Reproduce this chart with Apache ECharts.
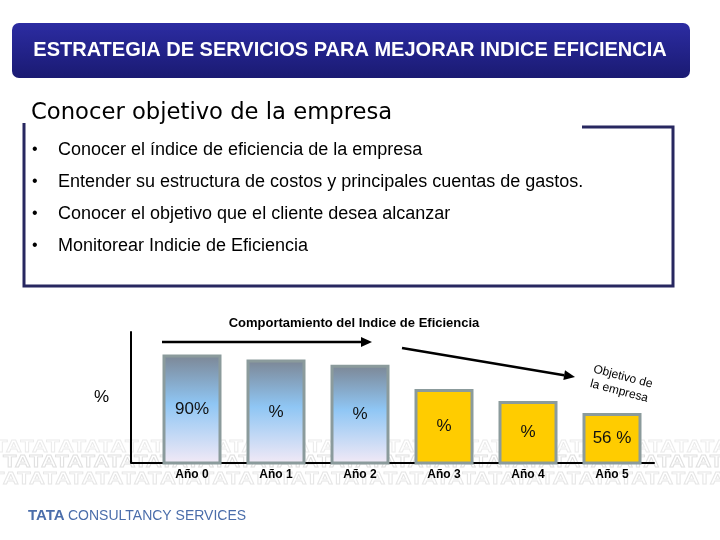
<!DOCTYPE html>
<html><head><meta charset="utf-8">
<script src="https://cdn.jsdelivr.net/npm/echarts@6/dist/echarts.min.js"></script>
<style>html,body{margin:0;padding:0;background:#fff}#c{width:720px;height:540px}</style>
</head><body><div id="c"></div>
<script>
// ---- data ----
const categories = ['Año 0', 'Año 1', 'Año 2', 'Año 3', 'Año 4', 'Año 5'];
const values = [90, 87, 84, 70, 63, 56];
const barLabels = ['90%', '%', '%', '%', '%', '56 %'];
const barKinds = ['actual', 'actual', 'actual', 'meta', 'meta', 'meta'];
const headerTitle = 'ESTRATEGIA DE SERVICIOS PARA MEJORAR INDICE EFICIENCIA';
const sectionTitle = 'Conocer objetivo de la empresa';
const bullets = [
  'Conocer el índice de eficiencia de la empresa',
  'Entender su estructura de costos y principales cuentas de gastos.',
  'Conocer el objetivo que el cliente desea alcanzar',
  'Monitorear Indicie de Eficiencia'
];
const chartTitle = 'Comportamiento del Indice de Eficiencia';
const axisName = '%';
const goalNote = 'Objetivo de\nla empresa';

// ---- styles ----
const FONT = 'Arial, "Liberation Sans", sans-serif';
const blueGrad = new echarts.graphic.LinearGradient(0, 0, 0, 1, [
  { offset: 0, color: '#7c8694' },
  { offset: 0.45, color: '#8fc6f4' },
  { offset: 1, color: '#f4eaf6' }
]);
const kindStyle = {
  actual: { color: blueGrad, borderColor: '#8b9b9c', borderWidth: 3 },
  meta: { color: '#ffcc00', borderColor: '#8b9b9c', borderWidth: 3 }
};

function arrow(x1, y1, x2, y2) {
  const a = Math.atan2(y2 - y1, x2 - x1);
  const L = 11, W = 5;
  const bx = x2 - L * Math.cos(a), by = y2 - L * Math.sin(a);
  const px = -Math.sin(a) * W, py = Math.cos(a) * W;
  return [
    { type: 'line', shape: { x1: x1, y1: y1, x2: bx, y2: by }, style: { stroke: '#000', lineWidth: 2.5 } },
    { type: 'polygon', shape: { points: [[x2, y2], [bx + px, by + py], [bx - px, by - py]] }, style: { fill: '#000' } }
  ];
}

const wm = 'TATATATATATATATATATATATATATATATATATATATATATATATATATATATATATATATATATATATA';
function wmRow(x, y, c) {
  return { type: 'text', x: x, y: y, scaleX: 1.3, z: 0,
    style: { text: wm, font: 'bold 17px ' + FONT, fill: 'rgba(0,0,0,0)', stroke: c, lineWidth: 0.8, verticalAlign: 'middle' } };
}
const graphics = [
  wmRow(-6, 447, '#ebebeb'),
  wmRow(3, 462, '#e0e0e0'),
  wmRow(-9, 479, '#e6e6e6'),
  { type: 'rect', shape: { x: 12, y: 23, width: 678, height: 55, r: 7 },
    style: { fill: { type: 'linear', x: 0, y: 0, x2: 0, y2: 1, colorStops: [{ offset: 0, color: '#2c2ca2' }, { offset: 1, color: '#1a1a72' }] } } },
  { type: 'text', x: 350, y: 50, style: { text: headerTitle, font: 'bold 20px ' + FONT, fill: '#fff', align: 'center', verticalAlign: 'middle' } },
  { type: 'text', x: 31, y: 113, style: { text: sectionTitle, font: '22.7px "DejaVu Sans", Verdana, sans-serif', fill: '#000', verticalAlign: 'middle' } },
  { type: 'polyline', shape: { points: [[582, 127], [673, 127], [673, 286], [24, 286], [24, 123]] }, style: { stroke: '#272760', lineWidth: 3, fill: null } },
  { type: 'text', x: 354, y: 323, style: { text: chartTitle, font: 'bold 13px ' + FONT, fill: '#000', align: 'center', verticalAlign: 'middle' } },
  { type: 'line', shape: { x1: 131, y1: 463, x2: 151, y2: 463 }, style: { stroke: '#000', lineWidth: 2 } },
  { type: 'text', x: 621, y: 384, rotation: -0.26, style: { text: goalNote, font: '12px ' + FONT, fill: '#000', align: 'center', verticalAlign: 'middle', lineHeight: 15 } },
  { type: 'text', x: 28, y: 516, style: { text: '{a|TATA} {b|CONSULTANCY SERVICES}', verticalAlign: 'middle',
    rich: { a: { font: '900 15px ' + FONT, fill: '#4b6eab' }, b: { font: '14px ' + FONT, fill: '#4b6eab' } } } }
];
bullets.forEach(function (b, i) {
  graphics.push({ type: 'text', x: 32, y: 150 + 32 * i, style: { text: '•', font: '16px ' + FONT, fill: '#000', verticalAlign: 'middle' } });
  graphics.push({ type: 'text', x: 58, y: 150 + 32 * i, style: { text: b, font: '18px ' + FONT, fill: '#000', verticalAlign: 'middle' } });
});
arrow(162, 342, 372, 342).forEach(function (g) { graphics.push(g); });
arrow(402, 348, 575, 377).forEach(function (g) { graphics.push(g); });

const chart = echarts.init(document.getElementById('c'), null, { renderer: 'canvas' });
chart.setOption({
  backgroundColor: '#fff',
  animation: false,
  textStyle: { fontFamily: FONT },
  grid: { left: 150, right: 66, top: 332, bottom: 77 },
  xAxis: {
    type: 'category', data: categories,
    axisLine: { lineStyle: { color: '#000', width: 2 } },
    axisTick: { show: false },
    axisLabel: { color: '#000', fontSize: 12, fontWeight: 'bold', margin: 6 }
  },
  yAxis: {
    type: 'value', min: 27, max: 103, offset: 19,
    name: axisName, nameLocation: 'middle', nameGap: 22, nameRotate: 0,
    nameTextStyle: { fontSize: 17, color: '#000' },
    axisLine: { show: true, lineStyle: { color: '#000', width: 2 } },
    axisTick: { show: false }, axisLabel: { show: false }, splitLine: { show: false }
  },
  series: [{
    type: 'bar', barWidth: 59,
    data: values.map(function (v, i) { return { value: v, itemStyle: kindStyle[barKinds[i]] }; }),
    label: {
      show: true, position: 'inside', fontSize: 17, color: '#111',
      formatter: function (p) { return barLabels[p.dataIndex]; }
    }
  }],
  graphic: graphics
});
</script></body></html>
